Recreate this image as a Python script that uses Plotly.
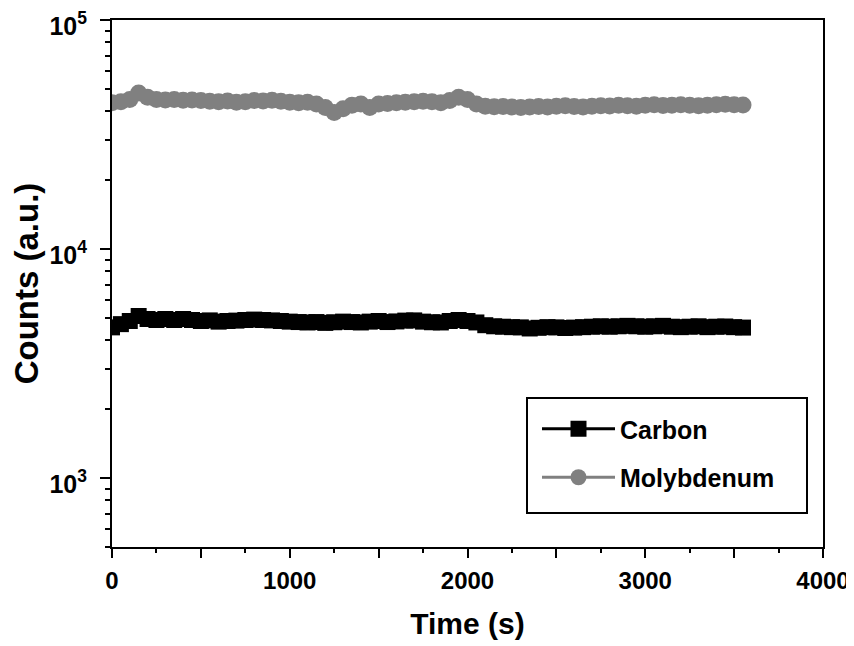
import plotly.graph_objects as go

time_s = [0, 50, 100, 150, 200, 250, 300, 350, 400, 450, 500, 550, 600, 650, 700, 750,
          800, 850, 900, 950, 1000, 1050, 1100, 1150, 1200, 1250, 1300, 1350, 1400, 1450,
          1500, 1550, 1600, 1650, 1700, 1750, 1800, 1850, 1900, 1950, 2000, 2050, 2100,
          2150, 2200, 2250, 2300, 2350, 2400, 2450, 2500, 2550, 2600, 2650, 2700, 2750,
          2800, 2850, 2900, 2950, 3000, 3050, 3100, 3150, 3200, 3250, 3300, 3350, 3400,
          3450, 3500, 3550]

carbon = [4550, 4700, 4850, 5100, 4950, 4900, 4950, 4900, 4950, 4900,
          4850, 4880, 4820, 4850, 4870, 4900, 4920, 4900, 4880, 4850,
          4820, 4800, 4780, 4800, 4760, 4790, 4820, 4800, 4780, 4820,
          4850, 4800, 4830, 4870, 4880, 4820, 4790, 4780, 4850, 4900,
          4850, 4780, 4650, 4600, 4580, 4560, 4550, 4500, 4530, 4560,
          4550, 4520, 4540, 4560, 4580, 4600, 4580, 4600, 4620, 4600,
          4580, 4600, 4620, 4580, 4560, 4580, 4600, 4560, 4580, 4590,
          4560, 4540]

molybdenum = [43500, 44000, 45000, 48000, 46000, 45000, 44800, 45000, 44600, 44800, 44500,
              44200, 44000, 44300, 43800, 44000, 44500, 44300, 44600, 44200, 43800, 43500,
              43700, 43000, 41500, 39500, 41000, 42500, 43000, 41500, 43000, 43200, 43500,
              43800, 44000, 44200, 44000, 43500, 44500, 46000, 45000, 43000, 42000, 41800,
              41900, 41700, 41500, 41700, 41900, 41700, 42000, 42200, 41900, 41700, 42000,
              42200, 42100, 42400, 42200, 42000, 42500, 42700, 42300, 42500, 42700, 42400,
              42200, 42500, 42700, 42900, 42700, 42600]

y_tickvals = [1000, 10000, 100000]
y_ticktext = ["<b>10<sup>3</sup></b>", "<b>10<sup>4</sup></b>", "<b>10<sup>5</sup></b>"]
x_tickvals = [0, 500, 1000, 1500, 2000, 2500, 3000, 3500, 4000]
x_ticktext = ["<b>0</b>", "", "<b>1000</b>", "", "<b>2000</b>", "", "<b>3000</b>", "",
              "<b>4000</b>"]

FONT = "Liberation Sans, Arial, sans-serif"

# page has an 8px body margin; figure is sized so the page matches 854x646
OFF = 8
W, H = 854 - OFF, 646 - OFF
# plot area in page pixels
L, R, T, B = 112, 823, 20, 547
PW, PH = R - L, B - T


def px(x):
    return (x - L) / PW


def py(y):
    return (B - y) / PH


fig = go.Figure()
fig.add_trace(go.Scatter(
    x=time_s, y=carbon, name="<b>Carbon</b>", mode="lines+markers",
    legendgroup="c",
    line=dict(color="black", width=3),
    marker=dict(symbol="square", size=16, color="black"),
))
fig.add_trace(go.Scatter(
    x=time_s, y=molybdenum, name="<b>Molybdenum</b>", mode="lines+markers",
    legendgroup="m",
    line=dict(color="#808080", width=3),
    marker=dict(symbol="circle", size=17, color="#808080"),
))

# legend frame
fig.add_shape(type="rect", xref="paper", yref="paper",
              x0=px(527), x1=px(807), y0=py(513), y1=py(398),
              line=dict(color="black", width=2), fillcolor="white", layer="below")

fig.update_layout(
    width=W, height=H,
    margin=dict(l=L - OFF, r=W - (R - OFF), t=T - OFF, b=H - (B - OFF)),
    plot_bgcolor="rgba(0,0,0,0)", paper_bgcolor="white",
    font=dict(family=FONT, color="black", size=24),
    showlegend=True,
    legend=dict(
        x=px(537), y=py(406), xanchor="left", yanchor="top",
        bgcolor="rgba(0,0,0,0)", borderwidth=0,
        font=dict(family=FONT, size=25, color="black"),
        itemwidth=73, tracegroupgap=13, traceorder="grouped",
    ),
)

fig.update_xaxes(
    range=[0, 4000], tickmode="array", tickvals=x_tickvals, ticktext=x_ticktext,
    ticks="outside", ticklen=9, tickwidth=2, tickcolor="black",
    minor=dict(ticks="outside", ticklen=4, tickwidth=2, tickcolor="black", dtick=250),
    showline=True, linewidth=2, linecolor="black", mirror=True,
    showgrid=False, zeroline=False, automargin=False, ticklabelstandoff=2,
    ticklabeloverflow="allow",
    tickfont=dict(family=FONT, size=24),
    title=dict(text="<b>Time (s)</b>", font=dict(family=FONT, size=30), standoff=20),
)
fig.update_yaxes(
    type="log", range=[2.699, 5.0001], tickmode="array", tickvals=y_tickvals,
    ticktext=y_ticktext,
    ticks="outside", ticklen=10, tickwidth=2, tickcolor="black",
    minor=dict(ticks="outside", ticklen=5, tickwidth=2, tickcolor="black", dtick="D1"),
    showline=True, linewidth=2, linecolor="black", mirror=True,
    showgrid=False, zeroline=False, automargin=False, ticklabelstandoff=8,
    ticklabelshift=6, ticklabeloverflow="allow",
    tickfont=dict(family=FONT, size=25),
    title=dict(text="<b>Counts (a.u.)</b>", font=dict(family=FONT, size=33), standoff=10),
)

fig.write_html("out.html")
